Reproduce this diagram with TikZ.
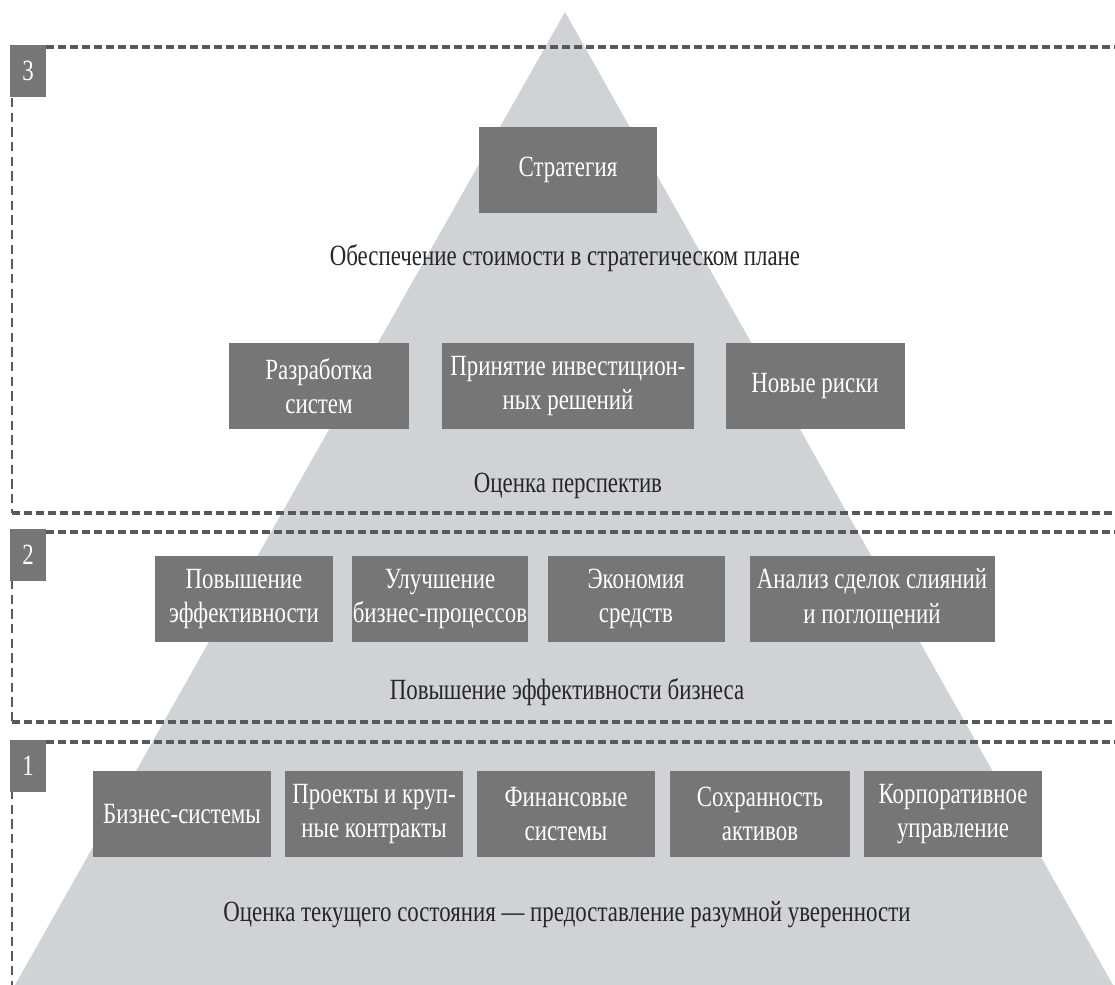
\documentclass[tikz,border=0pt]{standalone}
\usepackage{fontspec}
\setmainfont{Liberation Serif}[FakeStretch=0.78]
\definecolor{pyrgray}{HTML}{D0D3D6}
\definecolor{boxgray}{HTML}{767676}
\definecolor{linegray}{HTML}{595959}

\begin{document}
\begin{tikzpicture}[x=0.75pt, y=-0.75pt,
        every node/.style={font=\fontsize{22}{26}\selectfont, text=black!85},
        blok/.style={fill=boxgray, text=white, inner sep=0pt, align=center,
                     minimum height=86*0.75pt, minimum width=#1*0.75pt},
        blok/.default=178,
        lvl/.style={fill=boxgray, text=white, inner sep=0pt,
                    minimum width=36*0.75pt, minimum height=52*0.75pt,
                    font=\fontsize{22}{24}\selectfont},
        ramka/.style={linegray, line width=3pt, dash pattern=on 6pt off 3pt},
        ramkav/.style={linegray, line width=2.2pt, dash pattern=on 7pt off 4pt}]
    \useasboundingbox (0,0) rectangle (1115,985);

    % pyramid
    \fill[pyrgray] (15,985) -- (565,12) -- (1113,985) -- cycle;

    % levels
    \draw[ramka] (46,47) -- (1115,47);
    \draw[ramka] (12,513) -- (1115,513);
    \draw[ramkav] (12,98) -- (12,513);
    \draw[ramka] (46,532) -- (1115,532);
    \draw[ramka] (12,722) -- (1115,722);
    \draw[ramkav] (12,580) -- (12,722);
    \draw[ramka] (46,742) -- (1115,742);
    \draw[ramkav] (12,790) -- (12,985);

    \node[lvl] (lvl3) at (28,71) {3};
    \node[lvl] (lvl2) at (28,555) {2};
    \node[lvl] (lvl1) at (28,766) {1};

    % level 3
    \node[blok] (strat) at (568,170) {Стратегия};
    \node (strattxt) at (565,258) {Обеспечение стоимости в стратегическом плане};
    \node[blok=180] (razr) at (319,386) {Разработка\\систем};
    \node[blok=252] (invest) at (568,386) {Принятие инвестицион-\\ных решений};
    \node[blok=179] (riski) at (815,386) {Новые риски};
    \node (perstxt) at (568,486) {Оценка перспектив};

    % level 2
    \node[blok] (effekt) at (244,599) {Повышение\\эффективности};
    \node[blok=176] (proc) at (440,599) {Улучшение\\бизнес-процессов};
    \node[blok=177] (ekon) at (636,599) {Экономия\\средств};
    \node[blok=245] (sdelki) at (872,599) {Анализ сделок слияний\\и поглощений};
    \node (efftxt) at (567,692) {Повышение эффективности бизнеса};

    % level 1
    \node[blok] (biz) at (182,814) {Бизнес-системы};
    \node[blok] (proekt) at (374,814) {Проекты и круп-\\ные контракты};
    \node[blok] (fin) at (566,814) {Финансовые\\системы};
    \node[blok=180] (aktiv) at (760,814) {Сохранность\\активов};
    \node[blok] (korp) at (953,814) {Корпоративное\\управление};
    \node (tektxt) at (567,915) {Оценка текущего состояния~— предоставление разумной уверенности};
\end{tikzpicture}
\end{document}
